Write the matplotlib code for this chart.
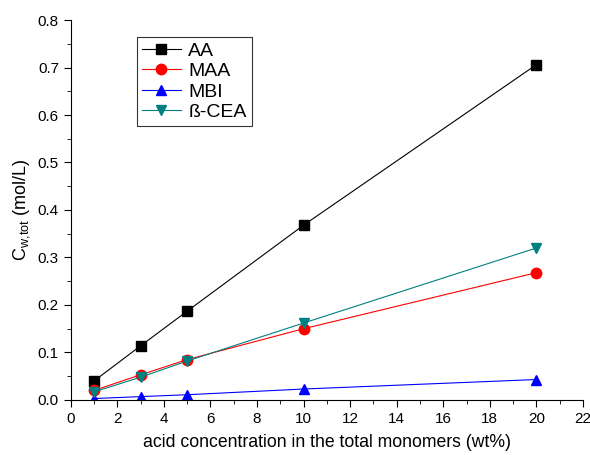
import numpy as np
import matplotlib
matplotlib.use('agg')
import matplotlib.pyplot as plt
from matplotlib.ticker import MultipleLocator

plt.rcParams['font.family'] = ['Liberation Sans', 'DejaVu Sans']
plt.rcParams['mathtext.fontset'] = 'custom'
plt.rcParams['mathtext.rm'] = 'Liberation Sans'

# acid concentration (wt%)
conc = [1, 3, 5, 10, 20]
# C_w,tot (mol/L) for each acid
aa = [0.040, 0.114, 0.187, 0.368, 0.706]
maa = [0.020, 0.053, 0.085, 0.150, 0.268]
mbi = [0.003, 0.007, 0.011, 0.023, 0.043]
bcea = [0.017, 0.048, 0.082, 0.162, 0.320]

fig = plt.figure(figsize=(5.9, 4.55), dpi=100)
ax = fig.add_axes([0.12, 0.121, 0.868, 0.835])

ax.plot(conc, aa, '-s', color='black', lw=0.8, ms=7, label='AA')
ax.plot(conc, maa, '-o', color='red', lw=0.8, ms=7.5, label='MAA')
ax.plot(conc, mbi, '-^', color='blue', lw=0.8, ms=7.5, label='MBI')
ax.plot(conc, bcea, '-v', color='#008080', lw=0.8, ms=7.5, label='ß-CEA')

ax.set_xlim(0, 22)
ax.set_ylim(0, 0.8)
ax.xaxis.set_major_locator(MultipleLocator(2))
ax.xaxis.set_minor_locator(MultipleLocator(1))
ax.yaxis.set_major_locator(MultipleLocator(0.1))
ax.yaxis.set_minor_locator(MultipleLocator(0.05))
ax.yaxis.set_major_formatter(matplotlib.ticker.FormatStrFormatter('%.1f'))
ax.tick_params(which='major', direction='out', length=5, labelsize=11)
ax.tick_params(which='minor', direction='out', length=3)
ax.spines['top'].set_visible(False)
ax.spines['right'].set_visible(False)

ax.set_xlabel('acid concentration in the total monomers (wt%)', fontsize=12.7, labelpad=6)
# \! pulls back the extra space mathtext puts after the comma
ax.set_ylabel(r'C$_{\mathrm{w,\!tot}}$ (mol/L)', fontsize=13, labelpad=4)

leg = ax.legend(loc='upper left', bbox_to_anchor=(0.129, 0.955), borderaxespad=0,
                fontsize=14, frameon=True, fancybox=False, edgecolor='black',
                handlelength=2.0, handletextpad=0.4, borderpad=0.25, labelspacing=0.15)
leg.get_frame().set_linewidth(0.8)

plt.savefig('out.png', dpi=100)
